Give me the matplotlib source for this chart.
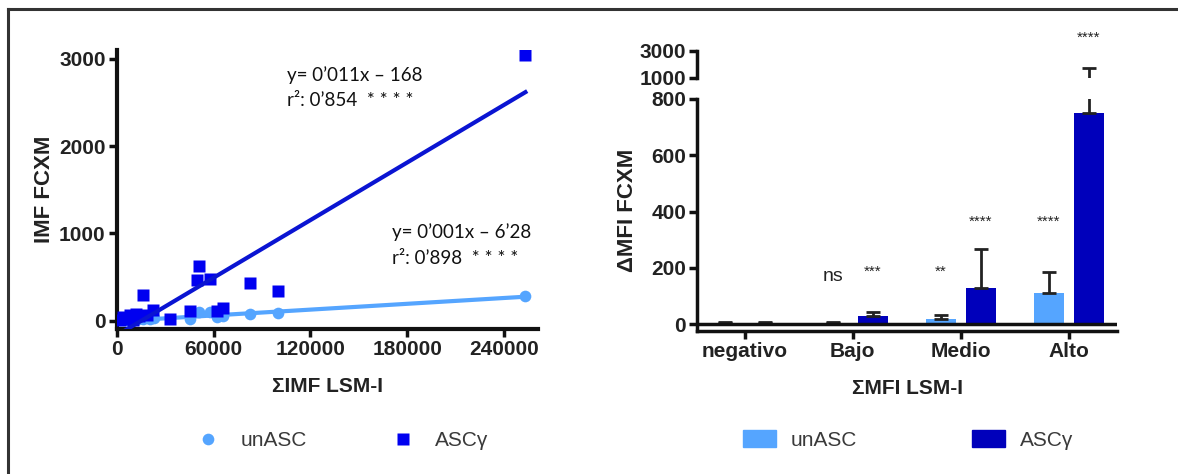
import matplotlib
matplotlib.use("Agg")
import matplotlib.pyplot as plt
from matplotlib.lines import Line2D
from matplotlib.patches import Patch
import numpy as np

# ---------------- data ----------------
# scatter: ASCγ (squares)
asc_x = [2000, 4000, 6000, 8000, 10000, 12000, 14000, 16000, 19000, 22600,
         33000, 45300, 49900, 50900, 57700, 62000, 65600, 82500, 100000, 253200]
asc_y = [10, 40, 25, 60, 5, 80, 50, 300, 60, 125,
         15, 115, 466, 622, 474, 110, 150, 437, 343, 3040]
# scatter: unASC (circles)
unasc_x = [2000, 4000, 6000, 8200, 10000, 13000, 16000, 20600, 23000, 45300,
           50900, 57700, 62200, 66000, 82500, 100000, 253200]
unasc_y = [5, 10, 8, 0, 15, 20, 25, 16, 35, 16,
           100, 103, 39, 52, 77, 92, 283]
# regression lines
asc_slope, asc_intercept = 0.011, -168
unasc_slope, unasc_intercept = 0.00111, -6.28
asc_eq = ["y= 0\u2019011x \u2013 168", "r\u00b2: 0\u2019854  * * * *"]
unasc_eq = ["y= 0\u2019001x \u2013 6\u201928", "r\u00b2: 0\u2019898  * * * *"]

# bars
categories = ["negativo", "Bajo", "Medio", "Alto"]
unasc_mean = [5, 5, 18, 110]
unasc_err = [3, 4, 15, 77]
asc_mean = [6, 31, 130, 750]
asc_err = [3, 12, 137, 950]
unasc_sig = ["", "ns", "**", "****"]
asc_sig = ["", "***", "****", "****"]

series_names = ["unASC", "ASC\u03b3"]

# ---------------- style ----------------
c_light = "#55A5FF"
c_sq = "#0000F0"
c_line = "#0A14D2"
c_bar = "#0000BB"
c_ax = "#111111"
c_txt = "#222222"
W, H = 1178, 474

fig = plt.figure(figsize=(W / 100, H / 100), dpi=100)


def fr(x0, y_top, x1, y_bot):
    return [x0 / W, 1 - y_bot / H, (x1 - x0) / W, (y_bot - y_top) / H]


def bold(size):
    return dict(family="Liberation Sans", weight="bold", size=size, color=c_txt)


# ---------------- left scatter ----------------
ax1 = fig.add_axes(fr(116.7, 50, 538, 329))
ax1.set_xlim(0, 261000)
ax1.set_ylim(-95, 3100)
ax1.plot(unasc_x, unasc_y, "o", color=c_light, ms=8.4, mec="none", zorder=2)
ax1.plot(asc_x, asc_y, "s", color=c_sq, ms=9.2, mec="none", zorder=3)
xs = np.array([min(unasc_x), max(unasc_x)])
ax1.plot(xs, unasc_slope * xs + unasc_intercept, color=c_light, lw=3, zorder=2)
xs2 = np.array([min(asc_x), max(asc_x)])
ax1.plot(xs2, asc_slope * xs2 + asc_intercept, color=c_line, lw=3, zorder=3)

for s in ["top", "right"]:
    ax1.spines[s].set_visible(False)
for s in ["left", "bottom"]:
    ax1.spines[s].set_linewidth(3)
    ax1.spines[s].set_color(c_ax)
ax1.set_xticks([0, 60000, 120000, 180000, 240000])
ax1.set_yticks([0, 1000, 2000, 3000])
ax1.tick_params(width=2.5, length=6, color=c_ax, pad=2)
for lab in ax1.get_xticklabels() + ax1.get_yticklabels():
    lab.set(**bold(15))
ax1.set_ylabel("IMF FCXM", **bold(16))
ax1.yaxis.set_label_coords(-0.147, 0.5)
ax1.set_xlabel("\u03a3IMF LSM-I", **bold(15))
ax1.xaxis.set_label_coords(0.5, -0.172)

eq_font = dict(family="Lato", size=13.5, color="#111111")
fig.text(286.7 / W, 1 - 75 / H, asc_eq[0], va="center", ha="left", **eq_font)
fig.text(286.7 / W, 1 - 100 / H, asc_eq[1], va="center", ha="left", **eq_font)
fig.text(391.7 / W, 1 - 232 / H, unasc_eq[0], va="center", ha="left", **eq_font)
fig.text(391.7 / W, 1 - 258 / H, unasc_eq[1], va="center", ha="left", **eq_font)

# ---------------- right bars (broken axis) ----------------
axb = fig.add_axes(fr(697.3, 99, 1117.3, 331))
axt = fig.add_axes(fr(697.3, 50.7, 1117.3, 77.7))
x = np.arange(len(categories))
bw, off = 0.28, 0.185
for ax in (axb, axt):
    ax.bar(x - off, unasc_mean, bw, color=c_light, zorder=2)
    ax.bar(x + off, asc_mean, bw, color=c_bar, zorder=2)
    ax.errorbar(x - off, unasc_mean, yerr=[np.zeros(4), unasc_err], fmt="none",
                ecolor=c_txt, elinewidth=2, capsize=5, capthick=2, zorder=3)
    ax.errorbar(x + off, asc_mean, yerr=[np.zeros(4), asc_err], fmt="none",
                ecolor=c_txt, elinewidth=2, capsize=5, capthick=2, zorder=3)
    ax.set_xlim(-0.44, 3.45)
    ax.spines["top"].set_visible(False)
    ax.spines["right"].set_visible(False)
    ax.spines["left"].set_linewidth(2.5)
    ax.spines["left"].set_color(c_ax)
    ax.tick_params(width=2.5, length=6, color=c_ax, pad=2)

axb.set_ylim(-24, 800)
axb.axhline(0, color=c_ax, lw=2.5, zorder=4)
axb.spines["bottom"].set_linewidth(2.5)
axb.spines["bottom"].set_color(c_ax)
axb.set_yticks([0, 200, 400, 600, 800])
axb.set_xticks(x)
axb.set_xticklabels(categories)
for lab in axb.get_xticklabels() + axb.get_yticklabels():
    lab.set(**bold(15))
axb.set_ylabel("\u0394MFI FCXM", **bold(16))
axb.yaxis.set_label_coords(-0.141, 0.52)
axb.set_xlabel("\u03a3MFI LSM-I", **bold(15))
axb.xaxis.set_label_coords(0.5, -0.207)

axt.set_ylim(1000, 3000)
axt.spines["bottom"].set_visible(False)
axt.set_xticks([])
axt.set_yticks([1000, 3000])
for lab in axt.get_yticklabels():
    lab.set(**bold(15))

# significance labels (heights in data units of the bar axes)
unasc_sig_h = [0, 170, 186, 364]
asc_sig_h = [0, 186, 364, 3990]
star_font = dict(family="Liberation Sans", size=11, color=c_txt)
for i in range(len(categories)):
    if unasc_sig[i] == "ns":
        axb.text(x[i] - off, unasc_sig_h[i], "ns", ha="center", va="center",
                 family="Liberation Sans", size=14, color=c_txt)
    elif unasc_sig[i]:
        axb.text(x[i] - off, unasc_sig_h[i], unasc_sig[i], ha="center",
                 va="center", **star_font)
    if asc_sig[i]:
        target = axt if asc_sig_h[i] > 800 else axb
        target.text(x[i] + off, asc_sig_h[i], asc_sig[i], ha="center",
                    va="center", clip_on=False, **star_font)

# ---------------- legends ----------------
leg_font = dict(family="Liberation Sans", size=15)
h1 = [Line2D([], [], marker="o", ls="none", color=c_light, ms=8.4, mec="none"),
      Line2D([], [], marker="s", ls="none", color=c_sq, ms=9.2, mec="none")]
leg1 = fig.legend(h1, series_names, loc="center left", bbox_to_anchor=(198 / W, 1 - 441 / H),
                  ncol=2, frameon=False, handlelength=1.0, handletextpad=1.05,
                  columnspacing=4.1, prop=leg_font, borderaxespad=0, borderpad=0)
h2 = [Patch(color=c_light), Patch(color=c_bar)]
leg2 = fig.legend(h2, series_names, loc="center left", bbox_to_anchor=(742.7 / W, 1 - 440 / H),
                  ncol=2, frameon=False, handlelength=1.6, handleheight=0.9,
                  handletextpad=0.7, columnspacing=5.5, prop=leg_font,
                  borderaxespad=0, borderpad=0)
for leg in (leg1, leg2):
    for t in leg.get_texts():
        t.set_color("#3a3a3a")

# ---------------- frame ----------------
fig.add_artist(Line2D([8 / W, 1], [1 - 9 / H, 1 - 9 / H], color="#333333", lw=2.2))
fig.add_artist(Line2D([8 / W, 8 / W], [0, 1 - 9 / H], color="#333333", lw=2.2))

fig.savefig("out.png", dpi=100)
